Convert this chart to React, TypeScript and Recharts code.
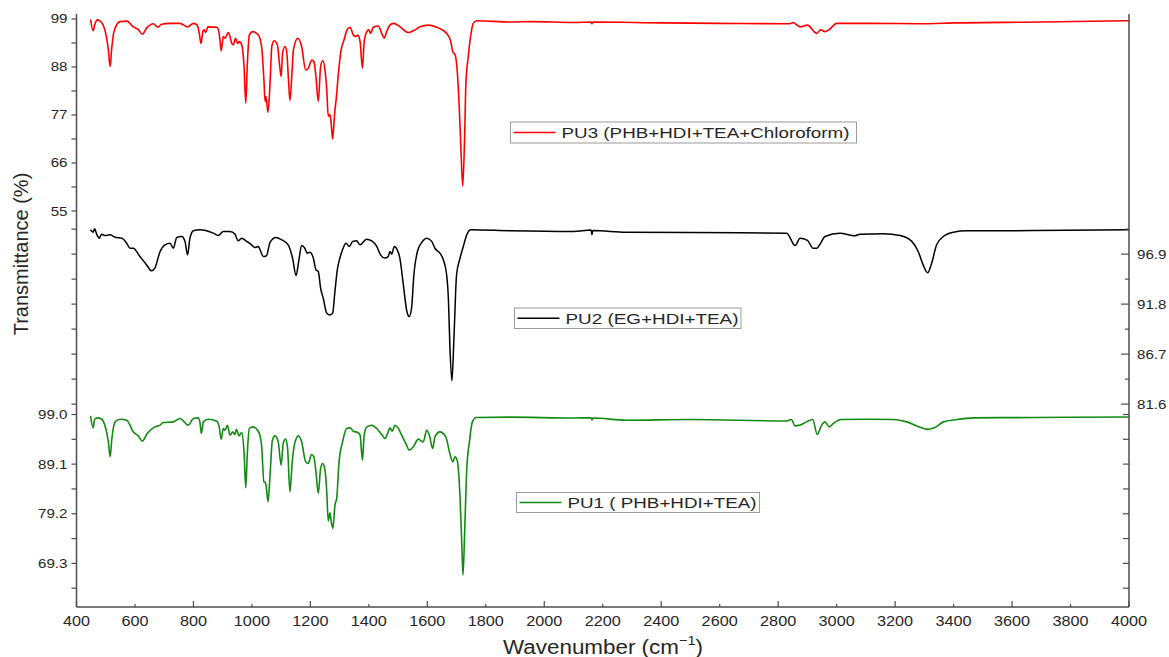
import React from "react";
import { LineChart, Line, XAxis, YAxis } from "recharts";

const FONT = "'Liberation Sans', Arial, Helvetica, sans-serif";
const AXIS = "#4d4d4d";
const TEXT = "#262626";

// wavenumber axis
const WN_DOMAIN: [number, number] = [400, 4000];
const WN_TICKS = [
  400, 600, 800, 1000, 1200, 1400, 1600, 1800, 2000, 2200, 2400, 2600, 2800,
  3000, 3200, 3400, 3600, 3800, 4000,
];
const WN_MAJOR = [400, 800, 1200, 1600, 2000, 2400, 2800, 3200, 3600, 4000];

// y axes per panel
const PU3_DOMAIN: [number, number] = [55, 100.14];
const PU3_TICKS = [55, 60.5, 66, 71.5, 77, 82.5, 88, 93.5, 99];
const PU3_LABELS = [55, 66, 77, 88, 99];

const PU2_DOMAIN: [number, number] = [81.0, 101.3];
const PU2_TICKS = [81.6, 84.15, 86.7, 89.25, 91.8, 94.35, 96.9, 99.45];
const PU2_LABELS = [81.6, 86.7, 91.8, 96.9];

const PU1_DOMAIN: [number, number] = [60.6, 99.9];
const PU1_TICKS = [64.35, 69.3, 74.25, 79.2, 84.15, 89.1, 94.05, 99.0];
const PU1_LABELS = [69.3, 79.2, 89.1, 99.0];

// PU3 (PHB+HDI+TEA+Chloroform)
const PU3_X = [
  448, 457, 462, 471, 486, 497, 509, 515, 520, 528, 549, 572, 594, 611, 625, 640,
  663, 678, 691, 720, 754, 780, 800, 813, 820, 826, 832, 836, 842, 849, 880, 888,
  895, 902, 908, 914, 919, 925, 931, 936, 944, 951, 957, 965, 973, 979, 984, 991,
  1003, 1022, 1033, 1041, 1045, 1048, 1055, 1062, 1068, 1076, 1087, 1094, 1100,
  1105, 1113, 1119, 1125, 1130, 1137, 1142, 1157, 1170, 1184, 1193, 1205, 1212,
  1219, 1227, 1235, 1242, 1250, 1256, 1261, 1267, 1271, 1276, 1283, 1288, 1296,
  1304, 1315, 1326, 1336, 1347, 1356, 1362, 1370, 1378, 1384, 1393, 1400, 1406,
  1415, 1432, 1444, 1452, 1461, 1472, 1484, 1507, 1535, 1552, 1575, 1603, 1632,
  1666, 1680, 1687, 1695, 1702, 1709, 1715, 1721, 1727, 1732, 1740, 1748, 1757,
  1769, 1883, 1957, 2100, 2160, 2163, 2166, 2400, 2600, 2840, 2850, 2875, 2900,
  2932, 2945, 2960, 2975, 3000, 3100, 3300, 3400, 3700, 4000,
];
const PU3_Y = [
  98.9, 96.3, 97.6, 98.8, 98.2, 96.5, 91.9, 88.1, 91.9, 96.1, 98.4, 98.5, 97.2,
  96.6, 95.5, 96.9, 97.9, 97.1, 97.8, 98.0, 98.0, 97.2, 98.0, 97.6, 95.7, 93.4,
  96.1, 96.5, 95.9, 97.2, 97.1, 95.7, 91.7, 95.0, 94.6, 95.3, 95.9, 95.0, 93.4,
  93.1, 94.6, 93.4, 93.8, 93.1, 88.1, 79.7, 88.1, 95.3, 96.1, 95.3, 92.7, 85.1,
  80.1, 81.2, 77.6, 84.3, 92.7, 94.0, 93.1, 88.9, 85.8, 91.2, 92.7, 91.5, 85.1,
  80.3, 86.6, 91.9, 94.6, 92.7, 87.3, 87.7, 89.6, 89.2, 85.8, 80.1, 88.1, 89.5,
  87.3, 82.8, 76.7, 77.1, 75.2, 71.5, 77.4, 80.5, 86.6, 91.5, 94.2, 96.6, 97.1,
  95.3, 95.0, 95.3, 93.8, 87.7, 93.8, 96.1, 96.5, 95.7, 97.1, 97.4, 95.7, 94.6,
  96.1, 97.6, 98.0, 97.2, 95.9, 96.3, 97.2, 97.6, 97.1, 95.7, 93.8, 91.5, 90.8,
  87.3, 79.0, 69.1, 60.7, 70.6, 84.3, 90.4, 95.0, 98.0, 98.6, 98.3, 98.4, 98.2,
  98.3, 97.9, 98.3, 98.1, 98.0, 97.9, 98.2, 97.2, 97.6, 95.7, 96.5, 96.1, 96.6,
  98.0, 98.0, 97.9, 98.1, 98.3, 98.6,
];

// PU2 (EG+HDI+TEA)
const PU2_X = [
  448, 457, 462, 469, 478, 486, 497, 515, 532, 555, 572, 583, 594, 617, 640, 657,
  668, 686, 703, 720, 731, 743, 760, 771, 780, 788, 800, 822, 845, 868, 885, 902,
  925, 942, 953, 965, 982, 999, 1010, 1022, 1028, 1039, 1050, 1062, 1082, 1102,
  1124, 1139, 1151, 1160, 1170, 1181, 1189, 1199, 1210, 1219, 1227, 1235, 1244,
  1256, 1265, 1276, 1284, 1292, 1301, 1310, 1322, 1333, 1345, 1358, 1370, 1392,
  1410, 1427, 1440, 1455, 1466, 1472, 1478, 1487, 1497, 1506, 1518, 1529, 1538,
  1546, 1554, 1566, 1581, 1598, 1615, 1626, 1643, 1655, 1666, 1672, 1677, 1684,
  1691, 1700, 1712, 1723, 1735, 1748, 1883, 2100, 2160, 2163, 2166, 2280, 2500,
  2829, 2858, 2875, 2900, 2920, 2932, 2945, 2960, 3011, 3062, 3079, 3160, 3217,
  3257, 3279, 3296, 3311, 3325, 3342, 3365, 3399, 3445, 3673, 4000,
];
const PU2_Y = [
  99.38, 99.14, 99.48, 98.94, 98.53, 98.94, 98.8, 98.87, 98.63, 98.53, 98.0, 97.5,
  97.5, 96.65, 95.8, 95.2, 95.47, 97.17, 97.85, 98.0, 97.5, 98.6, 98.7, 98.2,
  96.83, 98.53, 99.28, 99.38, 99.28, 99.04, 98.8, 99.2, 99.2, 98.94, 98.26, 98.53,
  98.2, 97.85, 97.57, 97.68, 97.34, 96.65, 96.76, 98.1, 98.6, 98.36, 97.85, 96.5,
  94.72, 96.15, 97.78, 97.5, 97.0, 97.1, 96.5, 95.3, 95.13, 93.43, 92.4, 90.88,
  90.7, 90.88, 93.1, 95.3, 96.5, 97.34, 98.0, 97.68, 98.2, 98.26, 97.85, 98.43,
  98.26, 97.68, 96.83, 96.5, 96.65, 97.17, 96.9, 97.68, 97.34, 96.5, 93.77, 91.2,
  90.53, 91.38, 94.79, 97.17, 98.1, 98.53, 98.2, 97.5, 97.0, 96.3, 94.8, 92.4,
  87.62, 83.97, 88.3, 94.8, 96.5, 97.68, 98.87, 99.38, 99.28, 99.2, 99.35, 98.9,
  99.3, 99.14, 99.1, 99.04, 97.78, 98.53, 98.3, 97.5, 97.5, 98.0, 98.7, 99.04,
  98.77, 98.94, 98.98, 98.8, 98.2, 97.17, 95.8, 95.0, 95.98, 97.85, 98.7, 99.14,
  99.28, 99.3, 99.38,
];

// PU1 ( PHB+HDI+TEA)
const PU1_X = [
  448, 457, 462, 471, 486, 497, 509, 515, 521, 532, 549, 572, 594, 611, 625, 642,
  668, 686, 697, 731, 754, 782, 800, 816, 822, 827, 834, 851, 880, 888, 895, 902,
  908, 916, 925, 934, 942, 947, 956, 965, 973, 979, 984, 991, 1003, 1022, 1033,
  1041, 1046, 1049, 1055, 1062, 1070, 1079, 1090, 1100, 1107, 1115, 1122, 1130,
  1138, 1145, 1159, 1170, 1184, 1193, 1204, 1212, 1219, 1227, 1235, 1242, 1250,
  1256, 1261, 1267, 1271, 1277, 1284, 1290, 1298, 1310, 1324, 1336, 1347, 1362,
  1370, 1378, 1384, 1393, 1410, 1427, 1444, 1455, 1466, 1472, 1480, 1489, 1500,
  1512, 1529, 1538, 1552, 1569, 1586, 1598, 1607, 1618, 1626, 1643, 1663, 1677,
  1687, 1695, 1702, 1712, 1718, 1722, 1728, 1735, 1744, 1754, 1767, 1883, 2100,
  2160, 2163, 2166, 2282, 2500, 2829, 2845, 2858, 2875, 2897, 2918, 2934, 2947,
  2960, 2975, 2988, 3017, 3099, 3194, 3240, 3274, 3313, 3336, 3365, 3411, 3467,
  3673, 4000,
];
const PU1_Y = [
  98.72, 96.33, 98.06, 98.32, 98.06, 96.87, 93.55, 90.56, 94.22, 97.53, 98.06,
  97.86, 95.54, 94.74, 93.69, 95.2, 96.53, 96.87, 97.4, 97.53, 98.2, 96.87, 98.2,
  98.32, 97.53, 95.2, 97.53, 98.06, 97.66, 96.53, 94.08, 96.21, 95.87, 96.87,
  94.88, 95.53, 95.0, 96.07, 94.74, 95.41, 91.55, 84.38, 90.89, 96.21, 96.53,
  95.67, 92.88, 85.57, 85.45, 84.58, 81.59, 86.9, 93.88, 94.74, 93.55, 88.9,
  93.22, 94.08, 92.23, 83.58, 89.56, 92.88, 94.74, 93.55, 89.56, 89.24, 91.03,
  90.55, 87.57, 83.26, 88.24, 89.24, 87.9, 83.58, 77.77, 79.4, 77.77, 76.29,
  80.93, 82.27, 89.56, 93.55, 96.21, 96.33, 95.67, 95.41, 94.88, 89.9, 94.88,
  96.53, 96.87, 96.21, 95.0, 94.22, 95.53, 96.33, 95.67, 96.87, 96.33, 94.88,
  92.88, 91.89, 92.55, 94.08, 93.55, 95.87, 94.88, 92.23, 94.54, 95.53, 94.54,
  91.23, 89.56, 90.56, 89.9, 82.27, 72.96, 66.98, 76.29, 88.24, 93.55, 97.53,
  98.4, 98.47, 98.3, 98.35, 97.9, 98.3, 97.86, 98.0, 97.7, 98.0, 96.73, 96.9,
  97.53, 98.0, 95.0, 96.7, 97.53, 96.53, 97.2, 98.0, 98.06, 98.0, 97.53, 96.73,
  96.07, 96.4, 97.53, 98.0, 98.32, 98.4, 98.5,
];

const toRows = (xs: number[], ys: number[]) => xs.map((wn, i) => ({ wn, t: ys[i] }));
const pu3Data = toRows(PU3_X, PU3_Y);
const pu2Data = toRows(PU2_X, PU2_Y);
const pu1Data = toRows(PU1_X, PU1_Y);

const near = (list: number[], v: number) => list.some((l) => Math.abs(l - v) < 1e-6);
// Arial digit widths, the source figure is stretched sideways a bit
const numW = (s: string, fs: number) =>
  [...s].reduce((a, c) => a + (c === "." ? 0.278 : 0.556), 0) * fs;

function NumText({ x, y, anchor, fs, stretch, children }: any) {
  return (
    <text
      x={x}
      y={y}
      textAnchor={anchor}
      dominantBaseline="central"
      fontSize={fs}
      fontFamily={FONT}
      fill={TEXT}
      textLength={numW(children, fs) * stretch}
      lengthAdjust="spacingAndGlyphs"
    >
      {children}
    </text>
  );
}

function LeftTick(props: any) {
  const { x, y, payload, labels, digits } = props;
  const v = payload.value;
  const show = labels && near(labels, v);
  return (
    <g>
      <line x1={x} y1={y} x2={x - 5} y2={y} stroke={AXIS} strokeWidth={1.2} />
      {show && (
        <NumText x={x - 9} y={y} anchor="end" fs={13.5} stretch={1.12}>
          {v.toFixed(digits)}
        </NumText>
      )}
    </g>
  );
}

function RightTick(props: any) {
  const { x, y, payload, labels, digits, major, minor } = props;
  const v = payload.value;
  const show = labels && near(labels, v);
  const len = labels ? (show ? major : minor) : major;
  return (
    <g>
      <line x1={x} y1={y} x2={x - len} y2={y} stroke={AXIS} strokeWidth={1.2} />
      {show && (
        <NumText x={x + 8} y={y} anchor="start" fs={13.5} stretch={1.12}>
          {v.toFixed(digits)}
        </NumText>
      )}
    </g>
  );
}

function BottomTick(props: any) {
  const { x, y, payload } = props;
  const v = payload.value;
  const len = near(WN_MAJOR, v) ? 6 : 3;
  return (
    <g>
      <line x1={x} y1={y} x2={x} y2={y - len} stroke={AXIS} strokeWidth={1.2} />
      <NumText x={x} y={y + 13.5} anchor="middle" fs={14} stretch={1.16}>
        {String(v)}
      </NumText>
    </g>
  );
}

function TopTick(props: any) {
  const { x, y, payload } = props;
  const v = payload.value;
  if (v <= 400 || v >= 4000) return <g />;
  const len = near(WN_MAJOR, v) ? 4 : 2.5;
  return <line x1={x} y1={y} x2={x} y2={y + len} stroke={AXIS} strokeWidth={1.2} />;
}

const W = 1169;
const LEFT_W = 76.5;
const RIGHT_W = 40;

function Legend({ x, y, w, h, color, label, textLen }: any) {
  const cy = y + h / 2;
  return (
    <g>
      <rect x={x} y={y} width={w} height={h} fill="#fff" stroke="#9a9a9a" strokeWidth={1} />
      <line x1={x + 3} y1={cy} x2={x + 45} y2={cy} stroke={color} strokeWidth={1.6} />
      <text
        x={x + 51}
        y={cy}
        dominantBaseline="central"
        fontSize={15}
        fontFamily={FONT}
        fill={TEXT}
        textLength={textLen}
        lengthAdjust="spacingAndGlyphs"
      >
        {label}
      </text>
    </g>
  );
}

export default function App() {
  return (
    <div style={{ position: "absolute", left: 0, top: 0, width: W, height: 657, background: "#fff" }}>
      {/* PU3 panel */}
      <div style={{ position: "absolute", left: 0, top: 0 }}>
        <LineChart width={W} height={221} data={pu3Data} margin={{ top: 14, right: 0, bottom: 10, left: 0 }}>
          <XAxis
            xAxisId="top"
            orientation="top"
            type="number"
            dataKey="wn"
            domain={WN_DOMAIN}
            allowDataOverflow
            ticks={WN_TICKS}
            interval={0}
            height={0}
            tickSize={0}
            tickMargin={0}
            tickLine={false}
            axisLine={{ stroke: AXIS, strokeWidth: 1.5 }}
            tick={(p: any) => <TopTick {...p} />}
          />
          <YAxis
            yAxisId="left"
            type="number"
            domain={PU3_DOMAIN}
            allowDataOverflow
            ticks={PU3_TICKS}
            interval={0}
            width={LEFT_W}
            tickSize={0}
            tickMargin={0}
            tickLine={false}
            axisLine={{ stroke: AXIS, strokeWidth: 1.5 }}
            tick={(p: any) => <LeftTick {...p} labels={PU3_LABELS} digits={0} />}
          />
          <YAxis
            yAxisId="right"
            orientation="right"
            type="number"
            domain={PU3_DOMAIN}
            width={RIGHT_W}
            tick={false}
            tickLine={false}
            axisLine={{ stroke: AXIS, strokeWidth: 1.5 }}
          />
          <Line
            xAxisId="top"
            yAxisId="left"
            type="monotone"
            dataKey="t"
            stroke="#ff0000"
            strokeWidth={1.6}
            dot={false}
            isAnimationActive={false}
          />
        </LineChart>
      </div>

      {/* PU2 panel */}
      <div style={{ position: "absolute", left: 0, top: 201 }}>
        <LineChart width={W} height={219} data={pu2Data} margin={{ top: 10, right: 0, bottom: 10, left: 0 }}>
          <XAxis
            xAxisId="sep"
            orientation="top"
            type="number"
            dataKey="wn"
            domain={WN_DOMAIN}
            allowDataOverflow
            height={0}
            tick={false}
            tickLine={false}
            axisLine={{ stroke: "#000", strokeWidth: 1.2 }}
          />
          <YAxis
            yAxisId="left"
            type="number"
            domain={PU2_DOMAIN}
            allowDataOverflow
            ticks={PU2_TICKS}
            interval={0}
            width={LEFT_W}
            tickSize={0}
            tickMargin={0}
            tickLine={false}
            axisLine={{ stroke: AXIS, strokeWidth: 1.5 }}
            tick={(p: any) => <LeftTick {...p} labels={null} digits={1} />}
          />
          <YAxis
            yAxisId="right"
            orientation="right"
            type="number"
            domain={PU2_DOMAIN}
            allowDataOverflow
            ticks={PU2_TICKS}
            interval={0}
            width={RIGHT_W}
            tickSize={0}
            tickMargin={0}
            tickLine={false}
            axisLine={{ stroke: AXIS, strokeWidth: 1.5 }}
            tick={(p: any) => <RightTick {...p} labels={PU2_LABELS} digits={1} major={8} minor={4} />}
          />
          <Line
            xAxisId="sep"
            yAxisId="left"
            type="monotone"
            dataKey="t"
            stroke="#000000"
            strokeWidth={1.5}
            dot={false}
            isAnimationActive={false}
          />
        </LineChart>
      </div>

      {/* PU1 panel */}
      <div style={{ position: "absolute", left: 0, top: 400 }}>
        <LineChart width={W} height={257} data={pu1Data} margin={{ top: 10, right: 0, bottom: 0, left: 0 }}>
          <XAxis
            xAxisId="sep"
            orientation="top"
            type="number"
            dataKey="wn"
            domain={WN_DOMAIN}
            allowDataOverflow
            height={0}
            tick={false}
            tickLine={false}
            axisLine={{ stroke: "#6a6a6a", strokeWidth: 2 }}
          />
          <XAxis
            xAxisId="main"
            orientation="bottom"
            type="number"
            dataKey="wn"
            domain={WN_DOMAIN}
            allowDataOverflow
            ticks={WN_TICKS}
            interval={0}
            height={50}
            tickSize={0}
            tickMargin={0}
            tickLine={false}
            axisLine={{ stroke: AXIS, strokeWidth: 1.5 }}
            tick={(p: any) => <BottomTick {...p} />}
          />
          <YAxis
            yAxisId="left"
            type="number"
            domain={PU1_DOMAIN}
            allowDataOverflow
            ticks={PU1_TICKS}
            interval={0}
            width={LEFT_W}
            tickSize={0}
            tickMargin={0}
            tickLine={false}
            axisLine={{ stroke: AXIS, strokeWidth: 1.5 }}
            tick={(p: any) => <LeftTick {...p} labels={PU1_LABELS} digits={1} />}
          />
          <YAxis
            yAxisId="right"
            orientation="right"
            type="number"
            domain={PU1_DOMAIN}
            allowDataOverflow
            ticks={PU1_TICKS}
            interval={0}
            width={RIGHT_W}
            tickSize={0}
            tickMargin={0}
            tickLine={false}
            axisLine={{ stroke: AXIS, strokeWidth: 1.5 }}
            tick={(p: any) => <RightTick {...p} labels={null} major={6} minor={6} />}
          />
          <Line
            xAxisId="main"
            yAxisId="left"
            type="monotone"
            dataKey="t"
            stroke="#128a12"
            strokeWidth={1.6}
            dot={false}
            isAnimationActive={false}
          />
        </LineChart>
      </div>

      {/* titles and legend boxes */}
      <svg width={W} height={657} style={{ position: "absolute", left: 0, top: 0, pointerEvents: "none" }}>
        <text
          transform="translate(21,254) rotate(-90)"
          textAnchor="middle"
          dominantBaseline="central"
          fontSize={20}
          fontFamily={FONT}
          fill={TEXT}
        >
          Transmittance (%)
        </text>
        <text
          x={503}
          y={647}
          dominantBaseline="central"
          fontSize={20}
          fontFamily={FONT}
          fill={TEXT}
          textLength={200}
          lengthAdjust="spacingAndGlyphs"
        >
          Wavenumber (cm
          <tspan fontSize={13} dy={-7}>
            −1
          </tspan>
          <tspan dy={7}>)</tspan>
        </text>
        <Legend x={510.5} y={122} w={346} h={21} color="#ff0000" label="PU3 (PHB+HDI+TEA+Chloroform)" textLen={288} />
        <Legend x={514.5} y={308} w={226.5} h={20.5} color="#000000" label="PU2 (EG+HDI+TEA)" textLen={173} />
        <Legend x={516.5} y={492.5} w={243} h={20} color="#128a12" label="PU1 ( PHB+HDI+TEA)" textLen={189} />
      </svg>
    </div>
  );
}
